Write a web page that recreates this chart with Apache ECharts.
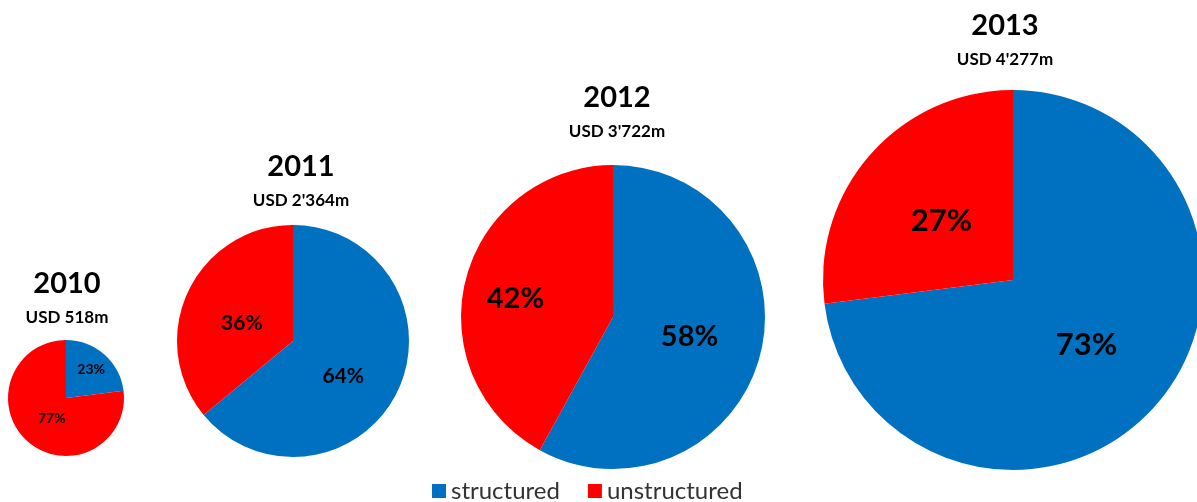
<!DOCTYPE html>
<html>
<head>
<meta charset="utf-8">
<script src="https://cdn.jsdelivr.net/npm/echarts@6/dist/echarts.min.js"></script>
<style>
  html, body { margin: 0; padding: 0; background: #fff; }
  #chart { width: 1197px; height: 502px; }
</style>
</head>
<body>
<div id="chart"></div>
<script>
// data
const years = ['2010', '2011', '2012', '2013'];
const totals = [518, 2364, 3722, 4277]; // USD m
const structured = [23, 64, 58, 73];
const unstructured = [77, 36, 42, 27];
const categories = ['structured', 'unstructured'];

// layout for each pie
const centers = [[66, 398], [293, 341], [613, 317], [1013, 280]];
const radii = [58, 116, 152, 190];
const labelSizes = [14, 21, 29, 31];
const titleX = [67, 301, 617, 1005];
const titleY = [269, 152, 83, 11];
// small nudges so labels sit where the original put them
const labelShift = [
  [[4, -5], [7, -4]],
  [[-5, 9], [4, 8]],
  [[0, 0], [-21, 1]],
  [[0, 0], [2, 6]]
];

const FONT = 'Lato, "Open Sans", sans-serif';

const fmtUsd = (v) => 'USD ' + String(v).replace(/\B(?=(\d{3})+(?!\d))/g, "'") + 'm';

const chart = echarts.init(document.getElementById('chart'));

const option = {
  animation: false,
  color: ['#0070C0', '#FF0000'],
  textStyle: { fontFamily: FONT },
  title: years.map((y, i) => ({
    text: y,
    subtext: fmtUsd(totals[i]),
    left: titleX[i],
    top: titleY[i],
    textAlign: 'center',
    padding: 0,
    itemGap: 10,
    textStyle: { fontSize: 29, fontWeight: 'bold', color: '#000', lineHeight: 30, fontFamily: FONT },
    subtextStyle: { fontSize: 17, fontWeight: 'bold', color: '#000', lineHeight: 18, fontFamily: FONT }
  })),
  legend: {
    data: categories,
    left: 427,
    top: 474,
    icon: 'rect',
    itemWidth: 14,
    itemHeight: 14,
    itemGap: 28,
    textStyle: { fontSize: 24, color: '#333', fontFamily: FONT }
  },
  series: years.map((y, i) => ({
    type: 'pie',
    name: y,
    center: centers[i],
    radius: radii[i],
    startAngle: 90,
    clockwise: true,
    silent: true,
    label: {
      show: true,
      position: 'inside',
      formatter: '{c}%',
      color: '#000',
      fontWeight: 'bold',
      fontSize: labelSizes[i],
      fontFamily: FONT
    },
    labelLayout: (p) => ({ dx: labelShift[i][p.dataIndex][0], dy: labelShift[i][p.dataIndex][1] }),
    labelLine: { show: false },
    data: [
      { name: categories[0], value: structured[i] },
      { name: categories[1], value: unstructured[i] }
    ]
  }))
};

chart.setOption(option);
</script>
</body>
</html>
